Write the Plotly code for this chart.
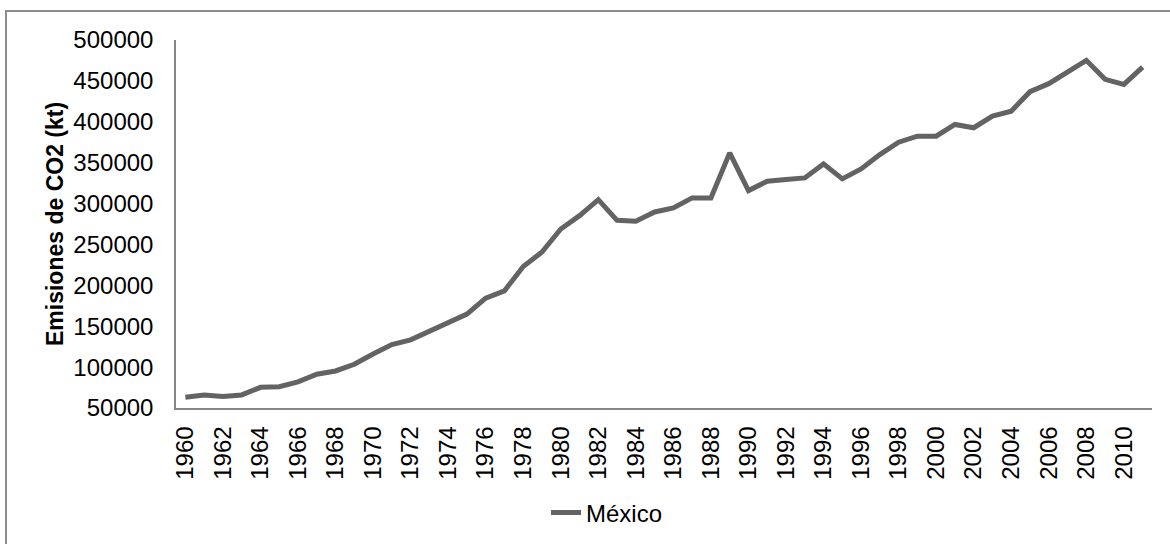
import plotly.graph_objects as go

# Mexico CO2 emissions (kt), 1960-2011
years = list(range(1960, 2012))
emissions = [
    63100, 65900, 64000, 66000, 75300, 76000, 82000, 91300, 95300, 103500,
    116000, 127500, 133300, 144300, 155000, 164800, 184400, 193300, 223000, 240700,
    268900, 285200, 304800, 279500, 278300, 289700, 294600, 306900, 306900, 362000,
    315900, 327300, 329300, 331400, 348500, 330200, 342400, 359900, 375000, 382400,
    382400, 396700, 392700, 406900, 413000, 436800, 446600, 460000, 475100, 451900,
    445700, 466900,
]
series_name = "México"
y_title = "Emisiones de CO2 (kt)"
y_ticks = list(range(50000, 500001, 50000))
x_ticks = list(range(1960, 2011, 2))

W, H = 1170, 544
L, R, T, B = 176, 18, 40, 136
plot_w = W - L - R
plot_h = H - T - B

def px_x(px):
    return (px - L) / plot_w

def px_y(py):
    return (H - B - py) / plot_h

FONT = "Liberation Sans, Arial, sans-serif"
LINE_COLOR = "#636363"
AXIS_COLOR = "#868686"
TICK_SIZE = 24

fig = go.Figure()
fig.add_trace(go.Scatter(
    x=years, y=emissions, mode="lines", name=series_name,
    line=dict(color=LINE_COLOR, width=5),
))

fig.update_layout(
    width=W, height=H,
    margin=dict(l=L, r=R, t=T, b=B, autoexpand=False),
    paper_bgcolor="white", plot_bgcolor="white",
    font=dict(family=FONT, size=TICK_SIZE, color="black"),
    showlegend=True,
    legend=dict(
        orientation="h", x=px_x(546), xanchor="left",
        y=px_y(513), yanchor="middle",
        font=dict(family=FONT, size=TICK_SIZE, color="black"),
        bgcolor="rgba(0,0,0,0)",
    ),
    xaxis=dict(
        range=[1959.5, 2011.5], tickmode="array", tickvals=x_ticks,
        ticktext=[str(v) for v in x_ticks], tickangle=-90,
        showline=True, linecolor=AXIS_COLOR, linewidth=1.5,
        showgrid=False, zeroline=False, ticks="",
        ticklabelstandoff=7,
        tickfont=dict(family=FONT, size=TICK_SIZE, color="black"),
    ),
    yaxis=dict(
        range=[50000, 500000], tickmode="array", tickvals=y_ticks,
        ticktext=[str(v) for v in y_ticks],
        showline=True, linecolor=AXIS_COLOR, linewidth=1.5,
        showgrid=False, zeroline=False, ticks="",
        ticklabelstandoff=16,
        tickfont=dict(family=FONT, size=TICK_SIZE, color="black"),
    ),
    annotations=[dict(
        text="<b>" + y_title + "</b>", textangle=-90,
        xref="paper", yref="paper", x=px_x(55), y=0.5,
        xanchor="center", yanchor="middle", showarrow=False,
        font=dict(family=FONT, size=23, color="black"),
    )],
    shapes=[dict(
        type="rect", xref="paper", yref="paper",
        x0=px_x(6), x1=px_x(1175), y0=px_y(550), y1=px_y(11),
        line=dict(color="#8c8c8c", width=2), fillcolor="rgba(0,0,0,0)",
        layer="below",
    )],
)

fig.write_html("out.html")
